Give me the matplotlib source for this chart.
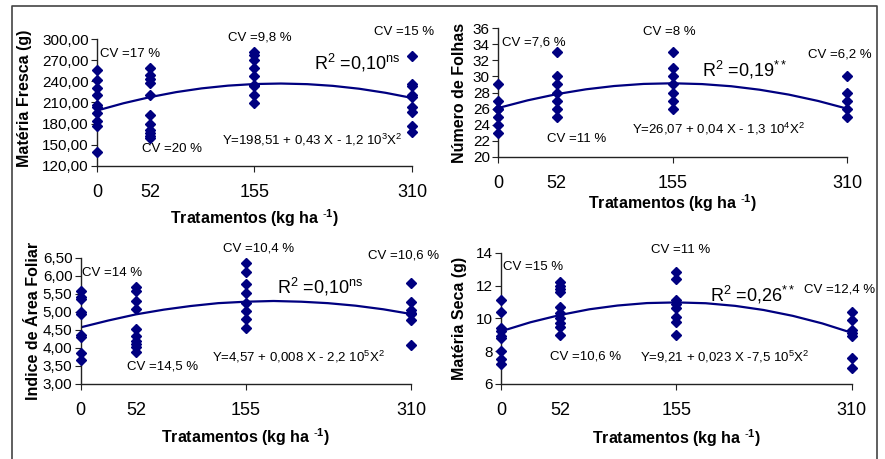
import matplotlib
matplotlib.use('Agg')
import matplotlib.pyplot as plt
from matplotlib.lines import Line2D

plt.rcParams['font.family'] = ['Liberation Sans', 'DejaVu Sans']
plt.rcParams['mathtext.fontset'] = 'custom'
plt.rcParams['mathtext.rm'] = 'Liberation Sans'
plt.rcParams['mathtext.it'] = 'Liberation Sans'
plt.rcParams['mathtext.bf'] = 'Liberation Sans:bold'

# doses (kg/ha)
doses = [0, 52, 155, 310]
curve_x = [0, 26, 52, 78, 103, 129, 155, 181, 207, 232, 258, 284, 310]

# materia fresca (g)
mf_0 = [256, 242, 231, 221, 206, 203, 195, 183, 176, 139]
mf_52 = [259, 249, 243, 238, 221, 192, 180, 171, 166, 162, 160]
mf_155 = [282, 278, 271, 259, 248, 235, 233, 221, 209]
mf_310 = [276, 237, 234, 221, 218, 204, 197, 176, 168]
mf_curve = [198.5, 208.9, 217.6, 224.8, 230.1, 234.0, 236.3, 237.0, 236.1, 233.7, 229.6, 223.8, 216.5]

# numero de folhas
nf_0 = [29, 27, 26, 26, 25, 24, 23]
nf_52 = [33, 30, 29, 28, 27, 26, 25]
nf_155 = [33, 31, 30, 29, 28, 27, 26]
nf_310 = [30, 28, 27, 26, 25]
nf_curve = [26.07, 27.02, 27.80, 28.40, 28.81, 29.07, 29.15, 29.05, 28.78, 28.35, 27.74, 26.95, 25.98]

# indice de area foliar
iaf_0 = [5.59, 5.40, 5.35, 5.00, 4.95, 4.37, 4.30, 3.85, 3.66]
iaf_52 = [5.68, 5.58, 5.30, 5.07, 4.52, 4.33, 4.20, 4.11, 4.02, 3.90]
iaf_155 = [6.34, 6.11, 5.76, 5.51, 5.25, 5.03, 4.79, 4.56]
iaf_310 = [5.81, 5.28, 5.05, 4.96, 4.93, 4.77, 4.08]
iaf_curve = [4.57, 4.76, 4.93, 5.06, 5.16, 5.24, 5.28, 5.30, 5.28, 5.24, 5.17, 5.07, 4.94]

# materia seca (g)
ms_0 = [11.1, 10.4, 9.4, 9.2, 8.9, 8.8, 8.0, 7.5, 7.2]
ms_52 = [12.2, 12.0, 11.8, 11.6, 10.7, 10.3, 10.0, 9.7, 9.5, 9.0]
ms_155 = [12.8, 12.4, 11.1, 10.9, 10.6, 10.1, 9.8, 9.0]
ms_310 = [10.4, 9.9, 9.3, 9.1, 8.9, 7.6, 7.0]
ms_curve = [9.21, 9.76, 10.20, 10.55, 10.78, 10.93, 10.97, 10.92, 10.76, 10.51, 10.15, 9.69, 9.12]

navy = '#000080'

fig = plt.figure(figsize=(8.85, 4.59), dpi=100)

# figure frame (top, left, right)
fig.add_artist(Line2D([12/885, 12/885, 877/885, 877/885], [0, 1 - 6/459, 1 - 6/459, 0],
                      transform=fig.transFigure, color='#444444', lw=1.2))


def panel(rect, groups, curve, ylim, yticks, yfmt, ylabel, ylabel_pos, xlabel_y, notes):
    ax = fig.add_axes(rect)
    for d, vals in zip(doses, groups):
        ax.plot([d] * len(vals), vals, linestyle='none', marker='D', ms=5.3,
                color=navy, clip_on=False, zorder=3)
    ax.plot(curve_x, curve, color=navy, lw=1.6, zorder=2)
    ax.set_xlim(0, 310)
    ax.set_ylim(*ylim)
    ax.set_yticks(yticks)
    ax.set_yticklabels([yfmt.format(t).replace('.', ',') for t in yticks], fontsize=11)
    ax.set_xticks([0, 155, 310])
    ax.set_xticklabels(['0', '155', '310'], fontsize=13)
    ax.set_xticks([52], minor=True)
    ax.set_xticklabels(['52'], minor=True, fontsize=13)
    ax.tick_params(axis='x', which='major', length=4, pad=9, color='#222222')
    ax.tick_params(axis='x', which='minor', length=0, pad=13)
    ax.tick_params(axis='y', length=4, pad=2, color='#222222')
    for s in ['top', 'right']:
        ax.spines[s].set_visible(False)
    for s in ['left', 'bottom']:
        ax.spines[s].set_color('#222222')
        ax.spines[s].set_linewidth(1.0)
    ax.set_ylabel(ylabel, fontsize=11.5, fontweight='bold')
    ax.yaxis.set_label_coords(*ylabel_pos)
    ax.text(0.5, xlabel_y, r'Tratamentos (kg ha $^{\mathbf{\text{-}1}}$)', transform=ax.transAxes,
            ha='center', va='center', fontsize=11.5, fontweight='bold')
    for x, y, s, size, ha in notes:
        ax.text(x, y, s, fontsize=size, ha=ha, va='center')
    ax.patch.set_visible(False)
    return ax


panel([0.1096, 0.639, 0.3559, 0.2754], [mf_0, mf_52, mf_155, mf_310], mf_curve,
      (120, 300), [120, 150, 180, 210, 240, 270, 300], '{:.2f}',
      'Matéria Fresca (g)', (-0.206, 0.535), -0.414,
      [(3, 279, 'CV =17 %', 9.5, 'left'),
       (44, 144, 'CV =20 %', 9.5, 'left'),
       (160, 302, 'CV =9,8 %', 9.5, 'center'),
       (302, 311, 'CV =15 %', 9.5, 'center'),
       (214, 266, r'R$^2$ =0,10$^{\mathrm{ns}}$', 13, 'left'),
       (123, 157, r'Y=198,51 + 0,43 X - 1,2 10$^3$X$^2$', 9.5, 'left')])

panel([0.563, 0.6586, 0.3944, 0.2797], [nf_0, nf_52, nf_155, nf_310], nf_curve,
      (20, 36), [20, 22, 24, 26, 28, 30, 32, 34, 36], '{:d}',
      'Número de Folhas', (-0.09, 0.5), -0.361,
      [(3, 34.2, 'CV =7,6 %', 9.5, 'left'),
       (43, 22.2, 'CV =11 %', 9.5, 'left'),
       (152, 35.5, 'CV =8 %', 9.5, 'center'),
       (303, 32.7, 'CV =6,2 %', 9.5, 'center'),
       (181, 30.8, r'R$^2$ =0,19$^{**}$', 13, 'left'),
       (119, 23.5, r'Y=26,07 + 0,04 X - 1,3 10$^4$X$^2$', 9.5, 'left')])

panel([0.0912, 0.1634, 0.3732, 0.2752], [iaf_0, iaf_52, iaf_155, iaf_310], iaf_curve,
      (3, 6.5), [3.0, 3.5, 4.0, 4.5, 5.0, 5.5, 6.0, 6.5], '{:.2f}',
      'Indice de Área Foliar', (-0.12, 0.5), -0.42,
      [(1, 6.08, 'CV =14 %', 9.5, 'left'),
       (43, 3.48, 'CV =14,5 %', 9.5, 'left'),
       (167, 6.76, 'CV =10,4 %', 9.5, 'center'),
       (303, 6.57, 'CV =10,6 %', 9.5, 'center'),
       (184, 5.70, r'R$^2$ =0,10$^{\mathrm{ns}}$', 13, 'left'),
       (123, 3.74, r'Y=4,57 + 0,008 X - 2,2 10$^5$X$^2$', 9.5, 'left')])

panel([0.5661, 0.1634, 0.3963, 0.2861], [ms_0, ms_52, ms_155, ms_310], ms_curve,
      (6, 14), [6, 8, 10, 12, 14], '{:d}',
      'Matéria Seca (g)', (-0.097, 0.5), -0.411,
      [(2, 13.15, 'CV =15 %', 9.5, 'left'),
       (43, 7.67, 'CV =10,6 %', 9.5, 'left'),
       (159, 14.16, 'CV =11 %', 9.5, 'center'),
       (299, 11.73, 'CV =12,4 %', 9.5, 'center'),
       (185, 11.42, r'R$^2$ =0,26$^{**}$', 13, 'left'),
       (123, 7.67, r'Y=9,21 + 0,023 X -7,5 10$^5$X$^2$', 9.5, 'left')])

fig.savefig('out.png', dpi=100)
